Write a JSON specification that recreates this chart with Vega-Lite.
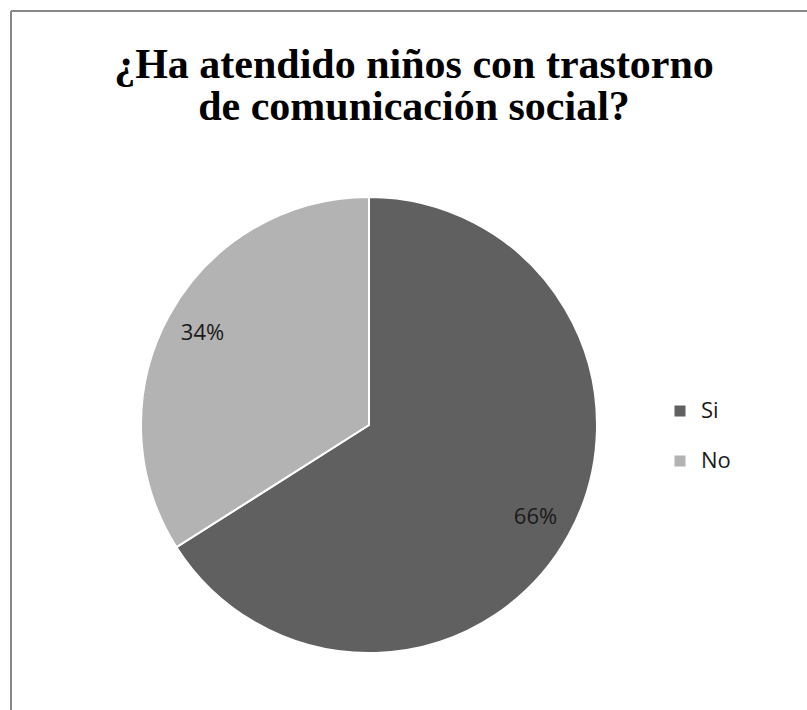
{
  "$schema": "https://vega.github.io/schema/vega-lite/v6.json",
  "width": 796,
  "height": 699,
  "autosize": {"type": "none"},
  "padding": {"left": 11, "top": 11, "right": 0, "bottom": 0},
  "background": "white",
  "view": {"stroke": "#888888", "strokeWidth": 2, "fill": "white", "strokeDash": [796, 1495, 699, 0], "strokeDashOffset": 0},
  "title": {
    "text": ["¿Ha atendido niños con trastorno", "de comunicación social?"],
    "font": "Liberation Serif",
    "fontSize": 42,
    "fontWeight": "bold",
    "color": "#000000",
    "lineHeight": 42,
    "anchor": "middle",
    "frame": "group",
    "baseline": "alphabetic",
    "offset": -87,
    "dx": 5,
    "dy": 64
  },
  "config": {
    "view": {"stroke": "#888888", "strokeWidth": 2, "strokeDash": [796, 1495, 699, 0], "strokeDashOffset": 0},
    "legend": {
      "orient": "none",
      "legendX": 658,
      "legendY": 389,
      "symbolType": "square",
      "symbolSize": 121,
      "symbolStrokeWidth": 0,
      "labelFont": "Open Sans",
      "labelFontSize": 22,
      "labelColor": "#1a1a1a",
      "rowPadding": 28,
      "labelOffset": 10,
      "padding": 0
    }
  },
  "data": {
    "values": [
      {"respuesta": "Si", "porcentaje": 66, "etiqueta": "66%"},
      {"respuesta": "No", "porcentaje": 34, "etiqueta": "34%"}
    ]
  },
  "encoding": {
    "theta": {"field": "porcentaje", "type": "quantitative", "stack": true},
    "order": {"field": "respuesta", "sort": "descending"},
    "color": {
      "field": "respuesta",
      "type": "nominal",
      "scale": {"domain": ["Si", "No"], "range": ["#606060", "#b3b3b3"]},
      "legend": {"title": null}
    }
  },
  "layer": [
    {
      "mark": {"type": "arc", "outerRadius": 228, "stroke": "white", "strokeWidth": 2, "xOffset": -40, "yOffset": 64.5}
    },
    {
      "mark": {"type": "text", "radius": 190, "font": "Open Sans", "fontSize": 22, "color": "#1a1a1a", "dx": -40, "dy": 64.5},
      "encoding": {"text": {"field": "etiqueta"}, "color": {"value": "#1a1a1a"}}
    }
  ]
}
